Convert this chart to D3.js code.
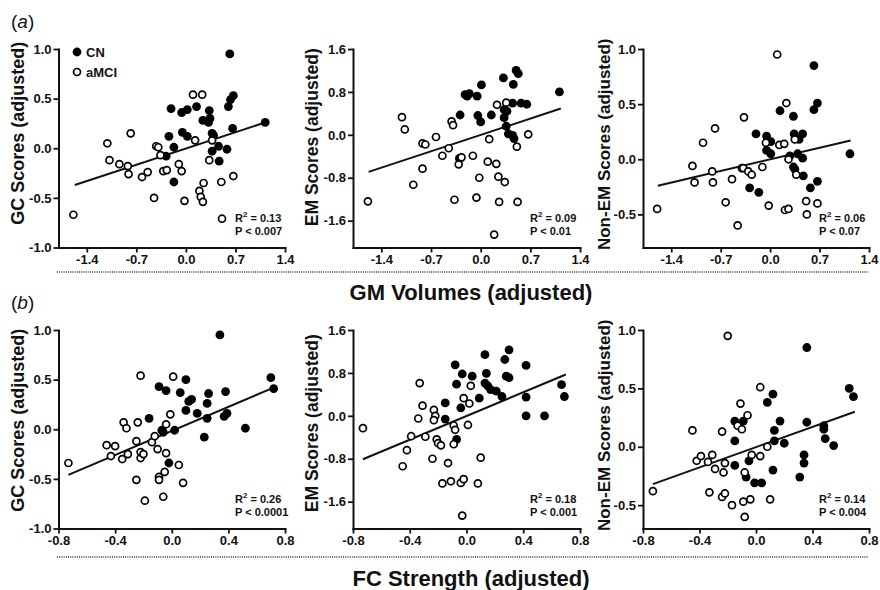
<!DOCTYPE html>
<html>
<head>
<meta charset="utf-8">
<script src="https://cdn.jsdelivr.net/npm/d3@7"></script>
<style>
  html, body { margin: 0; padding: 0; background: #fff; }
  svg { display: block; font-family: "Liberation Sans", Arial, sans-serif; }
</style>
</head>
<body>
<svg id="chart" width="880" height="590"></svg>
<script>
// ---------------- DATA ----------------
const gmTicks = [-1.4, -0.7, 0.0, 0.7, 1.4];
const fcTicks = [-0.8, -0.4, 0.0, 0.4, 0.8];
const gcTicks = [-1.0, -0.5, 0.0, 0.5, 1.0];
const emTicks = [-1.6, -0.8, 0.0, 0.8, 1.6];
const nonEmTicks = [-0.5, 0.0, 0.5, 1.0];

const groups = ["CN", "aMCI"];
const yLabels = ["GC Scores (adjusted)", "EM Scores (adjusted)", "Non-EM Scores (adjusted)"];
const xTitles = ["GM Volumes (adjusted)", "FC Strength (adjusted)"];
const rowTags = ["a", "b"];

// (a) GM volumes vs GC
const gmGC_CN = [[0.62,0.95],[0.63,0.49],[0.67,0.53],[1.12,0.26],[-0.21,0.40],[-0.06,0.36],[0.02,0.39],[0.15,0.42],[0.33,0.38],[0.24,0.28],[0.34,0.30],[0.32,0.26],[0.60,0.42],[0.66,0.20],[-0.05,0.16],[0.02,0.12],[-0.24,0.12],[-0.17,0.01],[-0.28,-0.08],[-0.17,-0.34],[0.37,0.15],[0.39,0.13],[0.37,-0.03],[0.46,0.02],[0.58,-0.01],[0.47,-0.13]];
const gmGC_MCI = [[-1.59,-0.67],[-1.11,0.05],[-1.08,-0.12],[-0.94,-0.16],[-0.82,-0.18],[-0.81,-0.26],[-0.78,0.15],[-0.62,-0.29],[-0.54,-0.24],[-0.45,-0.50],[-0.42,0.02],[-0.39,0.01],[-0.36,-0.07],[-0.32,-0.23],[-0.27,-0.22],[-0.10,-0.16],[-0.06,-0.23],[-0.02,-0.53],[0.10,0.54],[0.23,0.54],[0.13,0.08],[0.37,0.08],[0.33,-0.12],[0.25,-0.35],[0.19,-0.43],[0.21,-0.49],[0.24,-0.54],[0.50,-0.34],[0.67,-0.28],[0.51,-0.71]];
const gmGC_fit = [[-1.57,-0.37],[1.12,0.26]];

// (a) GM volumes vs EM
const gmEM_CN = [[1.11,0.80],[0.50,1.20],[0.53,1.14],[0.32,1.06],[0.46,0.94],[0.01,0.93],[-0.22,0.75],[-0.19,0.72],[-0.16,0.77],[-0.05,0.72],[-0.29,0.37],[-0.04,0.36],[0.00,0.24],[0.15,0.37],[0.33,0.47],[0.37,0.44],[0.33,0.32],[0.36,0.16],[0.39,0.02],[0.45,-0.01],[0.47,-0.07],[0.45,0.59],[0.57,0.59],[0.65,0.57],[-0.30,-0.44]];
const gmEM_MCI = [[-1.59,-1.24],[-1.11,0.33],[-1.07,0.10],[-0.95,-0.93],[-0.82,-0.63],[-0.82,-0.16],[-0.78,-0.18],[-0.63,-0.04],[-0.54,-0.39],[-0.45,-0.25],[-0.41,0.25],[-0.39,0.18],[-0.37,-1.21],[-0.31,-0.55],[-0.27,-0.42],[-0.11,-0.39],[-0.02,-0.80],[-0.06,-1.17],[0.12,-0.08],[0.10,-0.50],[0.22,-0.54],[0.23,0.56],[0.36,0.60],[0.25,-0.78],[0.34,-0.88],[0.26,-1.25],[0.19,-1.86],[0.51,-0.22],[0.67,0.01],[0.52,-1.25]];
const gmEM_fit = [[-1.58,-0.69],[1.13,0.49]];

// (a) GM volumes vs Non-EM
const gmNon_CN = [[0.62,0.85],[0.67,0.51],[0.62,0.45],[0.14,0.44],[0.33,0.39],[-0.20,0.23],[-0.05,0.21],[0.01,0.16],[0.34,0.23],[0.46,0.23],[0.41,0.18],[-0.05,0.08],[0.01,0.05],[0.28,0.03],[0.39,0.05],[0.46,0.01],[0.33,-0.07],[0.35,-0.09],[0.47,-0.15],[0.67,-0.20],[0.57,-0.26],[1.13,0.05],[-0.29,-0.26],[-0.16,-0.30]];
const gmNon_MCI = [[-1.60,-0.45],[-1.10,-0.06],[-1.07,-0.21],[-0.95,0.15],[-0.82,-0.11],[-0.81,-0.21],[-0.78,0.28],[-0.63,-0.39],[-0.54,-0.18],[-0.46,-0.60],[-0.40,-0.08],[-0.37,0.38],[-0.38,-0.08],[-0.31,-0.11],[-0.26,-0.14],[-0.11,-0.07],[-0.06,0.15],[-0.02,-0.42],[0.10,0.95],[0.13,0.13],[0.20,0.14],[0.23,0.51],[0.21,-0.46],[0.26,-0.45],[0.26,0.00],[0.35,0.18],[0.37,-0.14],[0.51,-0.38],[0.52,-0.50],[0.67,-0.40]];
const gmNon_fit = [[-1.59,-0.24],[1.14,0.17]];

// (b) FC strength vs GC
const fcGC_CN = [[0.34,0.95],[0.70,0.52],[0.72,0.41],[0.10,0.50],[-0.09,0.43],[-0.04,0.39],[0.06,0.37],[0.12,0.28],[0.14,0.30],[0.10,0.19],[0.26,0.36],[0.38,0.38],[0.18,0.16],[0.25,0.26],[0.25,0.11],[0.37,0.13],[0.39,0.16],[0.52,0.01],[-0.16,0.11],[-0.07,-0.01],[-0.06,-0.03],[0.02,-0.01],[0.23,-0.08],[-0.02,-0.34]];
const fcGC_MCI = [[-0.73,-0.34],[-0.46,-0.16],[-0.40,-0.17],[-0.43,-0.27],[-0.34,0.07],[-0.32,0.01],[-0.35,-0.30],[-0.31,-0.25],[-0.25,-0.51],[-0.25,-0.12],[-0.24,0.07],[-0.22,-0.29],[-0.22,-0.23],[-0.20,-0.25],[-0.22,0.54],[-0.19,-0.72],[-0.14,-0.13],[-0.12,-0.07],[-0.10,-0.20],[-0.09,-0.48],[-0.09,-0.51],[-0.05,-0.43],[-0.04,-0.24],[-0.06,-0.68],[-0.04,0.05],[-0.01,0.15],[0.01,0.53],[0.05,-0.36],[0.08,-0.54]];
const fcGC_fit = [[-0.73,-0.46],[0.72,0.42]];

// (b) FC strength vs EM
const fcEM_CN = [[-0.08,0.95],[-0.03,0.78],[0.04,0.74],[-0.07,0.59],[0.13,1.14],[0.30,1.23],[0.27,1.05],[0.14,0.79],[0.13,0.61],[0.15,0.56],[0.17,0.49],[0.21,0.46],[0.25,0.36],[0.28,0.74],[0.30,0.71],[0.42,0.94],[0.42,0.35],[0.42,0.00],[0.55,0.00],[0.67,0.58],[0.69,0.36],[0.09,0.33],[-0.15,0.24],[-0.04,0.15],[-0.15,-0.06],[-0.07,-0.44]];
const fcEM_MCI = [[-0.73,-0.23],[-0.33,0.61],[-0.31,0.19],[-0.34,-0.05],[-0.23,0.11],[-0.22,0.00],[-0.23,-0.08],[-0.39,-0.38],[-0.42,-0.64],[-0.45,-0.94],[-0.29,-0.39],[-0.24,-0.80],[-0.21,-0.44],[-0.20,-0.51],[-0.18,-0.55],[-0.17,-1.26],[-0.11,-1.22],[-0.13,-0.88],[-0.09,-0.18],[-0.08,-0.26],[-0.09,-0.53],[-0.04,-1.25],[-0.02,-1.18],[-0.02,0.33],[0.01,-0.17],[0.02,0.23],[0.03,0.56],[0.08,-1.26],[0.10,-0.78],[-0.03,-1.86]];
const fcEM_fit = [[-0.73,-0.81],[0.70,0.77]];

// (b) FC strength vs Non-EM
const fcNon_CN = [[0.36,0.85],[0.66,0.50],[0.69,0.43],[0.12,0.45],[0.08,0.38],[-0.15,0.22],[-0.09,0.22],[0.17,0.22],[0.13,0.14],[0.36,0.21],[0.48,0.18],[0.48,0.15],[0.49,0.07],[-0.15,0.05],[0.13,0.05],[0.20,0.03],[0.55,0.01],[0.34,-0.07],[0.34,-0.14],[-0.05,-0.12],[-0.15,-0.16],[-0.07,-0.26],[-0.01,-0.31],[0.04,-0.31],[0.12,-0.20],[0.31,-0.26]];
const fcNon_MCI = [[-0.73,-0.38],[-0.45,0.14],[-0.42,-0.12],[-0.39,-0.08],[-0.34,-0.13],[-0.31,-0.07],[-0.29,-0.19],[-0.33,-0.39],[-0.24,0.13],[-0.23,-0.22],[-0.22,-0.14],[-0.24,-0.43],[-0.22,-0.40],[-0.20,0.95],[-0.17,-0.50],[-0.13,0.18],[-0.11,0.37],[-0.10,0.15],[-0.08,-0.22],[-0.09,-0.47],[-0.08,-0.60],[-0.04,-0.45],[-0.03,-0.07],[-0.06,0.27],[0.03,0.51],[0.03,-0.08],[0.08,0.00],[0.10,-0.45]];
const fcNon_fit = [[-0.73,-0.32],[0.70,0.30]];

const rSquared = ["0.13", "0.09", "0.06", "0.26", "0.18", "0.14"];
const pValues = ["P < 0.007", "P < 0.01", "P < 0.07", "P < 0.0001", "P < 0.001", "P < 0.004"];

// ---------------- LAYOUT ----------------
const colX = [[58.5, 285], [353, 580], [643, 869]];
const rowY = [[49, 247.5], [330, 528.5]];
const xDomains = [[-1.8, 1.4], [-0.8, 0.8]];
const yDomainsTop = [[-1.0, 1.0], [-2.1, 1.6], [-0.8, 1.0]];
const yDomainsBot = [[-1.0, 1.0], [-2.1, 1.6], [-0.7, 1.0]];
const yLabelX = [18, 312, 604];
const yLabelShift = [[-15, -11, -4], [-9, -6, -4]];
const yLabelSize = [18, 17.5, 17];

const panels = [
  { cn: gmGC_CN, mci: gmGC_MCI, fit: gmGC_fit, yt: gcTicks },
  { cn: gmEM_CN, mci: gmEM_MCI, fit: gmEM_fit, yt: emTicks },
  { cn: gmNon_CN, mci: gmNon_MCI, fit: gmNon_fit, yt: nonEmTicks },
  { cn: fcGC_CN, mci: fcGC_MCI, fit: fcGC_fit, yt: gcTicks },
  { cn: fcEM_CN, mci: fcEM_MCI, fit: fcEM_fit, yt: emTicks },
  { cn: fcNon_CN, mci: fcNon_MCI, fit: fcNon_fit, yt: nonEmTicks }
];

const svg = d3.select("#chart");
const fmt = d => d.toFixed(1);
const FONT = "'Liberation Sans', Arial, sans-serif";

panels.forEach((p, i) => {
  const row = Math.floor(i / 3), col = i % 3;
  const [x0, x1] = colX[col];
  const [yTop, yBot] = rowY[row];
  const x = d3.scaleLinear().domain(xDomains[row]).range([x0, x1]);
  const yd = row === 0 ? yDomainsTop[col] : yDomainsBot[col];
  const y = d3.scaleLinear().domain(yd).range([yBot, yTop]);
  const xt = row === 0 ? gmTicks : fcTicks;

  const g = svg.append("g");

  // axes
  const gx = g.append("g").attr("transform", `translate(0,${yBot})`)
    .call(d3.axisBottom(x).tickValues(xt).tickFormat(fmt).tickSize(5).tickSizeOuter(0).tickPadding(2));
  const gy = g.append("g").attr("transform", `translate(${x0},0)`)
    .call(d3.axisLeft(y).tickValues(p.yt).tickFormat(fmt).tickSize(5).tickSizeOuter(0).tickPadding(2));
  [gx, gy].forEach(a => {
    a.select(".domain").attr("stroke", "#111").attr("stroke-width", 2).attr("stroke-linecap", "square");
    a.selectAll(".tick line").attr("stroke", "#111").attr("stroke-width", 1.8);
    a.selectAll(".tick text").attr("fill", "#111")
      .style("font-family", FONT).style("font-weight", "bold").style("font-size", "13px");
  });

  // y label
  g.append("text")
    .attr("transform", `translate(${yLabelX[col]},${(yTop + yBot) / 2 + yLabelShift[row][col]}) rotate(-90)`)
    .attr("text-anchor", "middle").attr("dy", "0.35em")
    .style("font-family", FONT).style("font-weight", "bold").style("font-size", yLabelSize[col] + "px")
    .attr("fill", "#111")
    .text(yLabels[col]);

  // regression line
  g.append("path")
    .datum(p.fit)
    .attr("d", d3.line().x(d => x(d[0])).y(d => y(d[1])))
    .attr("stroke", "#111").attr("stroke-width", 2).attr("fill", "none");

  // points
  g.append("g").selectAll("circle").data(p.cn).join("circle")
    .attr("cx", d => x(d[0])).attr("cy", d => y(d[1])).attr("r", 4.4)
    .attr("fill", "#000");
  g.append("g").selectAll("circle").data(p.mci).join("circle")
    .attr("cx", d => x(d[0])).attr("cy", d => y(d[1])).attr("r", 3.5)
    .attr("fill", "#fff").attr("stroke", "#000").attr("stroke-width", 1.7);

  // stats
  const st = g.append("text").attr("x", x1 - 50).attr("y", yBot - 26)
    .style("font-family", FONT).style("font-weight", "bold").style("font-size", "11px").attr("fill", "#111");
  st.append("tspan").text("R");
  st.append("tspan").attr("dy", -5).style("font-size", "8px").text("2");
  st.append("tspan").attr("dy", 5).text(" = " + rSquared[i]);
  g.append("text").attr("x", x1 - 50).attr("y", yBot - 13)
    .style("font-family", FONT).style("font-weight", "bold").style("font-size", "11px").attr("fill", "#111")
    .text(pValues[i]);
});

// legend (panel a, first plot)
const legX = 77;
const legY = [52, 72];
groups.forEach((gname, k) => {
  const c = svg.append("circle").attr("cx", legX).attr("cy", legY[k]);
  if (k === 0) c.attr("r", 4.4).attr("fill", "#000");
  else c.attr("r", 3.5).attr("fill", "#fff").attr("stroke", "#000").attr("stroke-width", 1.7);
  svg.append("text").attr("x", legX + 9).attr("y", legY[k] + 5)
    .style("font-family", FONT).style("font-weight", "bold").style("font-size", "13px").attr("fill", "#111")
    .text(gname);
});

// row tags
const tagY = [28, 309];
rowTags.forEach((t, k) => {
  const tx = svg.append("text").attr("x", 11).attr("y", tagY[k])
    .style("font-family", FONT).style("font-size", "19px").attr("fill", "#111");
  tx.append("tspan").text("(");
  tx.append("tspan").style("font-style", "italic").text(t);
  tx.append("tspan").text(")");
});

// separators & x titles
const sepY = [272, 557];
const titleY = [300, 586];
xTitles.forEach((t, k) => {
  svg.append("line").attr("x1", 57).attr("x2", 868).attr("y1", sepY[k]).attr("y2", sepY[k])
    .attr("stroke", "#333").attr("stroke-width", 1.6).attr("stroke-dasharray", "1,1.2");
  svg.append("text").attr("x", 471).attr("y", titleY[k]).attr("text-anchor", "middle")
    .style("font-family", FONT).style("font-weight", "bold").style("font-size", "22px").attr("fill", "#111")
    .text(t);
});
</script>
</body>
</html>
